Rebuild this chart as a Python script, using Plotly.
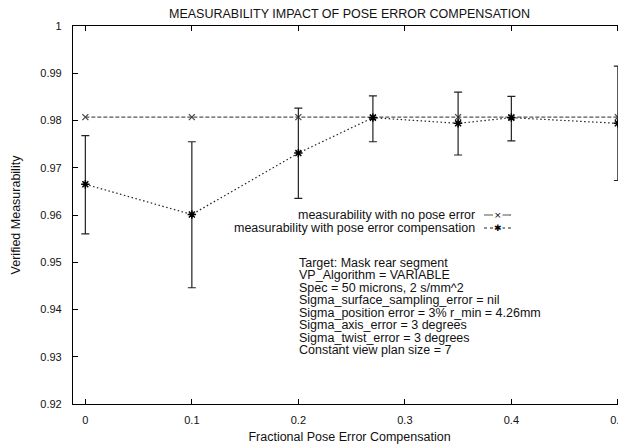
import plotly.graph_objects as go

# ---- data ----
x_vals = [0.0, 0.1, 0.2, 0.27, 0.35, 0.4, 0.5]
no_pose_error = [0.9807, 0.9807, 0.9807, 0.9807, 0.9807, 0.9807, 0.9807]
with_comp = [0.9665, 0.9601, 0.9731, 0.9806, 0.9794, 0.9806, 0.9794]
comp_upper = [0.9768, 0.9755, 0.9826, 0.9852, 0.9860, 0.9851, 0.9915]
comp_lower = [0.9560, 0.9446, 0.9635, 0.9755, 0.9727, 0.9757, 0.9673]

series_names = ["measurability with no pose error",
                "measurability with pose error compensation"]
info_lines = [
    "Target: Mask rear segment",
    "VP_Algorithm = VARIABLE",
    "Spec = 50 microns, 2 s/mm^2",
    "Sigma_surface_sampling_error = nil",
    "Sigma_position error = 3% r_min = 4.26mm",
    "Sigma_axis_error = 3 degrees",
    "Sigma_twist_error = 3 degrees",
    "Constant view plan size = 7",
]
y_ticks = [0.92, 0.93, 0.94, 0.95, 0.96, 0.97, 0.98, 0.99, 1.0]
y_tick_text = ["0.92", "0.93", "0.94", "0.95", "0.96", "0.97", "0.98", "0.99", "1"]
x_ticks = [0, 0.1, 0.2, 0.3, 0.4, 0.5]
x_tick_text = ["0", "0.1", "0.2", "0.3", "0.4", "0.5"]

FONT = "Liberation Sans, Arial, Helvetica, sans-serif"
OFF = 8  # default page body margin
W, H = 626 - OFF, 448 - OFF
ML, MR, MT, MB = 73 - OFF, 0, 26 - OFF, 448 - 404
PW, PH = W - ML - MR, H - MT - MB
TXT = 12.5

err_plus = [u - v for u, v in zip(comp_upper, with_comp)]
err_minus = [v - l for v, l in zip(with_comp, comp_lower)]

fig = go.Figure()
fig.add_trace(go.Scatter(
    x=x_vals, y=no_pose_error, mode="lines+markers", name=series_names[0],
    line=dict(color="#555555", width=1.2, dash="4px,2px"),
    marker=dict(symbol="x-thin-open", size=6, color="#444444",
                line=dict(color="#444444", width=1.2)),
    showlegend=False,
))
fig.add_trace(go.Scatter(
    x=x_vals, y=with_comp, mode="lines+markers", name=series_names[1],
    line=dict(color="#222222", width=1.2, dash="1.5px,2.5px"),
    marker=dict(symbol="asterisk-open", size=7, color="#000000",
                line=dict(color="#000000", width=1.5)),
    error_y=dict(type="data", symmetric=False, array=err_plus,
                 arrayminus=err_minus, color="#222222", thickness=1.2, width=4),
    showlegend=False,
))

# page pixel -> paper coordinates
def px_x(p):
    return (p - OFF - ML) / PW

def px_y(p):
    return (H - MB - (p - OFF)) / PH

annotations = []
shapes = []
legend_rows = [(215, series_names[0], "dash", "#555555", "×"),
               (228, series_names[1], "dot", "#222222", "✱")]
for ypix, name, dash, col, sym in legend_rows:
    annotations.append(dict(x=px_x(477), y=px_y(ypix), xref="paper", yref="paper",
                            text=name, showarrow=False, xanchor="right",
                            yanchor="middle", font=dict(family=FONT, size=TXT, color="#111111")))
    shapes.append(dict(type="line", xref="paper", yref="paper",
                       x0=px_x(484), x1=px_x(512), y0=px_y(ypix), y1=px_y(ypix),
                       line=dict(color=col, width=1.2, dash=dash)))
    annotations.append(dict(x=px_x(498), y=px_y(ypix), xref="paper", yref="paper",
                            text=sym, showarrow=False, xanchor="center",
                            yanchor="middle", bgcolor="white", borderpad=0,
                            font=dict(family="DejaVu Sans", size=9, color="#000000")))

for i, line in enumerate(info_lines):
    annotations.append(dict(x=px_x(297), y=px_y(263 + i * 12.45), xref="paper", yref="paper",
                            text=line, showarrow=False, xanchor="left", yanchor="middle",
                            font=dict(family=FONT, size=TXT, color="#111111")))

x_lo = -0.0116
x_hi = x_lo + PW / 1065.0

fig.update_layout(
    width=W, height=H,
    margin=dict(l=ML, r=MR, t=MT, b=MB, autoexpand=False),
    paper_bgcolor="white", plot_bgcolor="white",
    font=dict(family=FONT, size=11, color="#111111"),
    title=dict(text="MEASURABILITY IMPACT OF POSE ERROR COMPENSATION",
               x=(ML + PW / 2) / W, xanchor="center", y=1 - (14 - OFF) / H,
               yanchor="middle", font=dict(family=FONT, size=TXT, color="#111111")),
    xaxis=dict(range=[x_lo, x_hi], tickvals=x_ticks, ticktext=x_tick_text,
               showgrid=False, zeroline=False, showline=True, linecolor="#000000",
               linewidth=1.2, mirror="ticks", ticks="inside", ticklen=5,
               tickcolor="#000000", tickfont=dict(size=11), ticklabelstandoff=6,
               automargin=False,
               title=dict(text="Fractional Pose Error Compensation", standoff=6,
                          font=dict(size=TXT))),
    yaxis=dict(range=[0.92, 1.0], tickvals=y_ticks, ticktext=y_tick_text,
               showgrid=False, zeroline=False, showline=True, linecolor="#000000",
               linewidth=1.2, mirror=False, ticks="inside", ticklen=5,
               tickcolor="#000000", tickfont=dict(size=11), ticklabelstandoff=8,
               automargin=False,
               title=dict(text="Verified Measurability", standoff=16,
                          font=dict(size=TXT))),
    yaxis2=dict(range=[0.92, 1.0], tickvals=y_ticks, overlaying="y", side="right",
                showticklabels=False, showgrid=False, zeroline=False, showline=False,
                ticks="inside", ticklen=5, tickcolor="#000000", automargin=False),
    annotations=annotations,
    shapes=shapes,
)
fig.add_trace(go.Scatter(x=[x_lo], y=[0.92], yaxis="y2", mode="markers",
                         marker=dict(opacity=0), showlegend=False, hoverinfo="skip"))

fig.write_html("out.html")
